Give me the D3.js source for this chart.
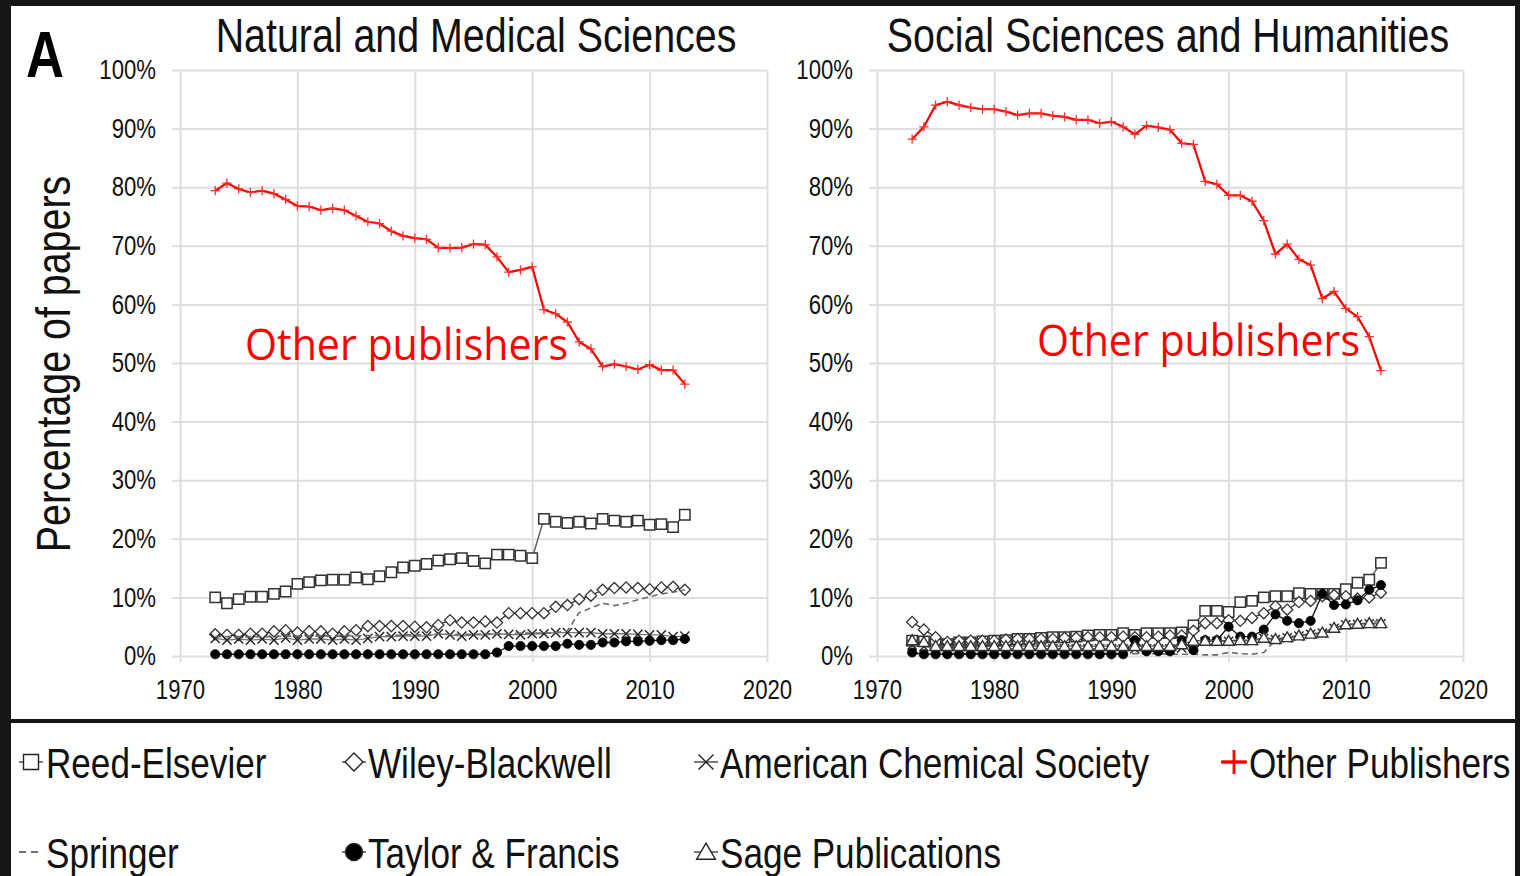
<!DOCTYPE html>
<html><head><meta charset="utf-8">
<script src="https://cdn.jsdelivr.net/npm/d3@7"></script>
<style>html,body{margin:0;padding:0;background:#151515;}svg{display:block;}</style>
</head><body>
<script>
// ---------------- DATA ----------------
const years = [1973,1974,1975,1976,1977,1978,1979,1980,1981,1982,1983,1984,1985,1986,1987,1988,1989,1990,1991,1992,1993,1994,1995,1996,1997,1998,1999,2000,2001,2002,2003,2004,2005,2006,2007,2008,2009,2010,2011,2012,2013];
const panelTitles = ["Natural and Medical Sciences", "Social Sciences and Humanities"];
const yTicks = [0,10,20,30,40,50,60,70,80,90,100];
const xTicks = [1970,1980,1990,2000,2010,2020];
const seriesNames = ["Reed-Elsevier","Wiley-Blackwell","American Chemical Society","Other Publishers","Springer","Taylor & Francis","Sage Publications"];

// Natural and Medical Sciences (% of papers)
const natReed    = [10.0,9.0,9.7,10.1,10.1,10.6,11.0,12.3,12.6,12.9,13.0,13.0,13.4,13.1,13.6,14.3,15.1,15.4,15.7,16.3,16.5,16.7,16.2,15.8,17.3,17.3,17.1,16.7,23.4,22.9,22.7,22.9,22.6,23.4,23.1,22.9,23.1,22.4,22.5,22.0,24.1];
const natWiley   = [3.7,3.6,3.6,3.8,3.8,4.2,4.4,4.0,4.2,4.2,3.8,4.2,4.4,5.1,5.1,5.1,5.1,5.0,4.9,5.3,6.1,5.7,5.7,5.9,5.7,7.3,7.3,7.3,7.3,8.4,8.7,9.7,10.3,11.3,11.6,11.7,11.6,11.4,11.7,11.8,11.3];
const natACS     = [3.0,2.7,2.9,2.7,2.9,2.7,3.1,2.7,2.9,2.9,2.7,2.9,2.7,3.0,3.3,3.3,3.4,3.4,3.4,3.8,3.6,3.4,3.6,3.6,3.8,3.7,3.6,3.8,3.8,4.0,4.0,4.0,4.0,3.8,3.8,3.8,3.7,3.6,3.6,3.3,3.4];
const natOther   = [79.4,80.7,79.7,79.1,79.4,78.9,77.9,76.8,76.7,76.1,76.4,76.1,75.1,74.1,73.8,72.5,71.7,71.3,71.1,69.7,69.6,69.7,70.3,70.2,68.1,65.5,65.9,66.4,59.1,58.4,57.0,53.6,52.4,49.4,49.8,49.4,48.9,49.7,48.8,48.8,46.4];
const natSpringer= [3.3,3.3,3.3,3.3,3.3,3.3,3.4,3.4,3.4,3.4,3.4,3.4,3.5,3.5,3.5,3.5,3.6,3.6,3.6,3.7,3.7,3.7,3.7,3.8,3.8,3.8,3.9,3.9,3.9,4.0,4.3,7.4,8.2,9.0,8.6,9.0,9.6,10.1,10.6,10.9,11.3];
const natTF      = [0.3,0.3,0.3,0.3,0.3,0.3,0.3,0.3,0.3,0.3,0.3,0.3,0.3,0.3,0.3,0.3,0.3,0.3,0.3,0.3,0.3,0.3,0.3,0.3,0.6,1.7,1.7,1.7,1.7,1.7,2.1,1.9,1.9,2.3,2.3,2.5,2.5,2.6,2.7,2.7,2.9];

// Social Sciences and Humanities (% of papers)
const socReed    = [2.6,2.5,2.0,2.0,2.3,2.3,2.5,2.6,2.7,2.9,2.9,3.1,3.2,3.2,3.3,3.5,3.6,3.6,3.9,3.6,3.9,3.9,3.9,4.0,5.2,7.7,7.7,7.5,9.2,9.4,10.0,10.2,10.2,10.7,10.6,10.6,10.6,11.4,12.5,13.0,15.9];
const socWiley   = [5.8,4.5,3.2,2.4,2.6,2.6,2.6,2.6,2.8,2.9,2.9,2.9,2.9,3.1,3.1,3.2,3.2,3.2,3.3,3.2,3.2,3.3,3.5,3.5,4.3,5.6,5.6,6.1,6.0,6.5,7.3,8.5,7.9,9.2,9.4,10.2,10.4,10.2,9.8,10.0,10.8];
const socACS     = [1.9,1.6,1.3,1.2,1.2,1.2,1.2,1.2,1.2,1.2,1.2,1.2,1.2,1.2,1.2,1.2,1.2,1.2,1.2,1.2,1.2,1.2,1.2,1.4,1.6,2.5,2.5,2.5,2.6,2.6,3.0,2.8,3.1,3.4,3.7,3.9,4.7,5.3,5.4,5.5,5.5];
const socOther   = [88.2,90.3,94.0,94.6,94.0,93.6,93.3,93.3,92.9,92.3,92.6,92.6,92.2,92.0,91.5,91.5,90.9,91.2,90.3,89.0,90.5,90.2,89.8,87.5,87.3,81.0,80.5,78.6,78.6,77.6,74.3,68.6,70.3,67.7,66.7,61.0,62.2,59.3,57.9,54.5,48.7];
const socSpringer= [0.4,0.4,0.4,0.4,0.4,0.4,0.4,0.4,0.4,0.4,0.4,0.4,0.4,0.4,0.4,0.4,0.4,0.4,0.4,0.4,0.4,0.4,0.3,0.3,0.3,0.2,0.2,0.6,0.4,0.3,0.6,2.7,2.9,3.2,3.5,3.8,4.4,4.8,5.2,5.5,6.3];
const socTF      = [0.6,0.3,0.3,0.3,0.3,0.3,0.3,0.3,0.3,0.3,0.3,0.3,0.3,0.3,0.3,0.3,0.3,0.3,0.3,2.7,0.8,0.8,0.8,2.7,1.0,2.7,2.7,5.0,3.3,3.3,4.5,7.1,6.0,5.6,6.0,10.6,8.7,8.8,9.5,11.3,12.1];
const socSage    = [2.7,2.4,1.7,1.7,1.7,1.7,1.7,1.7,1.7,1.7,1.7,1.7,1.7,1.7,1.7,1.7,1.7,1.7,1.7,1.7,1.7,1.7,1.7,2.0,2.6,2.6,2.6,2.6,2.7,2.7,3.1,2.9,3.2,3.5,3.8,4.0,4.8,5.4,5.5,5.6,5.6];

const annotation = "Other publishers";

// ---------------- DRAWING ----------------
const W = 1520, H = 876;
const svg = d3.select("body").append("svg").attr("width", W).attr("height", H);
svg.append("rect").attr("width", W).attr("height", H).attr("fill", "#151515");
svg.append("rect").attr("x", 11).attr("y", 6).attr("width", 1504).attr("height", 713).attr("fill", "#fff");
svg.append("rect").attr("x", 11).attr("y", 723).attr("width", 1504).attr("height", 153).attr("fill", "#fff");

const FONT = "'Liberation Sans', Arial, sans-serif";
const K = 0.82; // narrow font factor
function condense(sel, k) {
  sel.each(function () {
    const w = this.getComputedTextLength();
    this.setAttribute("textLength", w * k);
    this.setAttribute("lengthAdjust", "spacingAndGlyphs");
  });
}

// marker shapes
const mk = {
  square: s => `M${-s},${-s}h${2*s}v${2*s}h${-2*s}Z`,
  diamond: s => `M0,${-s}L${s},0L0,${s}L${-s},0Z`,
  times: s => `M${-s},${-s}L${s},${s}M${s},${-s}L${-s},${s}`,
  plus: s => `M${-s},0H${s}M0,${-s}V${s}`,
  triangle: s => `M0,${-s*1.05}L${s*1.1},${s*0.85}L${-s*1.1},${s*0.85}Z`,
  circle: s => `M${s},0A${s},${s} 0 1 1 ${-s},0A${s},${s} 0 1 1 ${s},0Z`
};

const styles = {
  "Reed-Elsevier":            {line:"#595959", lw:1.4, dash:null, marker:"square", ms:5.2, mfill:"#fff", mstroke:"#333", msw:1.5, lms:7.5},
  "Wiley-Blackwell":          {line:"#333", lw:1.3, dash:null, marker:"diamond", ms:5.6, mfill:"#fff", mstroke:"#333", msw:1.3, lms:9},
  "American Chemical Society":{line:"#777", lw:1.3, dash:null, marker:"times", ms:4.6, mfill:"none", mstroke:"#222", msw:1.4, lms:7.5},
  "Other Publishers":         {line:"#ff0000", lw:2.2, dash:null, marker:"plus", ms:4.6, mfill:"none", mstroke:"#ff3030", msw:1.3, lms:12},
  "Springer":                 {line:"#6a6a6a", lw:1.6, dash:"6,4", marker:null},
  "Taylor & Francis":         {line:"#111", lw:1.3, dash:null, marker:"circle", ms:4.6, mfill:"#000", mstroke:"#000", msw:0.8, lms:8.5},
  "Sage Publications":        {line:"#555", lw:1.3, dash:null, marker:"triangle", ms:5.2, mfill:"#fff", mstroke:"#333", msw:1.4, lms:8.5}
};

const y = d3.scaleLinear().domain([0, 100]).range([656, 70]);

const panels = [
  {title: panelTitles[0], x0: 180, x1: 767, titleX: 476, annX: 245, annY: 360,
   series: [["Reed-Elsevier", natReed], ["Wiley-Blackwell", natWiley], ["American Chemical Society", natACS],
            ["Other Publishers", natOther], ["Springer", natSpringer], ["Taylor & Francis", natTF]]},
  {title: panelTitles[1], x0: 877, x1: 1463, titleX: 1168, annX: 1037, annY: 356,
   series: [["Reed-Elsevier", socReed], ["Wiley-Blackwell", socWiley], ["American Chemical Society", socACS],
            ["Other Publishers", socOther], ["Springer", socSpringer], ["Taylor & Francis", socTF], ["Sage Publications", socSage]]}
];

panels.forEach(p => {
  const x = d3.scaleLinear().domain([1970, 2020]).range([p.x0, p.x1]);
  const pw = p.x1 - p.x0;

  // y axis + horizontal gridlines
  const gy = svg.append("g").attr("transform", `translate(${p.x0 - 8},0)`)
    .call(d3.axisLeft(y).tickValues(yTicks).tickFormat(d => d + "%").tickSize(-(pw + 8)).tickPadding(16));
  gy.select(".domain").remove();
  gy.selectAll("line").attr("stroke", "#dedede").attr("stroke-width", 2);
  gy.selectAll("text").attr("font-family", FONT).attr("font-size", 27).attr("fill", "#111");

  // x axis + vertical gridlines
  const gx = svg.append("g").attr("transform", `translate(0,662)`)
    .call(d3.axisBottom(x).tickValues(xTicks).tickFormat(d3.format("d")).tickSize(-(662 - 70)).tickPadding(18));
  gx.select(".domain").remove();
  gx.selectAll("line").attr("stroke", "#dedede").attr("stroke-width", 2);
  gx.selectAll("text").attr("font-family", FONT).attr("font-size", 27).attr("fill", "#111");

  condense(gy.selectAll("text"), K);
  condense(gx.selectAll("text"), K);

  // title
  const t = svg.append("text").attr("x", p.titleX).attr("y", 52).attr("text-anchor", "middle")
    .attr("font-family", FONT).attr("font-size", 48).attr("fill", "#111").text(p.title);
  condense(t, K);

  // series
  p.series.forEach(([name, vals]) => {
    const st = styles[name];
    const line = d3.line().x((d, i) => x(years[i])).y(d => y(d));
    svg.append("path").datum(vals).attr("d", line).attr("fill", "none")
      .attr("stroke", st.line).attr("stroke-width", st.lw).attr("stroke-dasharray", st.dash);
    if (st.marker) {
      svg.append("g").selectAll("path").data(vals).join("path")
        .attr("transform", (d, i) => `translate(${x(years[i])},${y(d)})`)
        .attr("d", mk[st.marker](st.ms))
        .attr("fill", st.mfill).attr("stroke", st.mstroke).attr("stroke-width", st.msw);
    }
  });

  // annotation
  svg.append("text").attr("x", p.annX).attr("y", p.annY).attr("font-family", "'Open Sans', 'Noto Sans', sans-serif")
    .attr("font-size", 43).attr("fill", "#ff0000").attr("textLength", 323).attr("lengthAdjust", "spacingAndGlyphs")
    .text(annotation);
});

// panel letter
const A = svg.append("text").attr("x", 26).attr("y", 77).attr("font-family", FONT).attr("font-weight", "bold")
  .attr("font-size", 64).attr("fill", "#000").text("A");
condense(A, K);

// y label
const yl = svg.append("text").attr("transform", "translate(70,364) rotate(-90)").attr("text-anchor", "middle")
  .attr("font-family", FONT).attr("font-size", 48).attr("fill", "#111").text("Percentage of papers");
condense(yl, K);

// legend
const legendPos = [
  {mx: 31, tx: 46, y: 762}, {mx: 354, tx: 368, y: 762}, {mx: 706, tx: 720, y: 762}, {mx: 1234, tx: 1249, y: 762},
  {mx: 31, tx: 46, y: 852}, {mx: 354, tx: 368, y: 852}, {mx: 706, tx: 720, y: 852}
];
seriesNames.forEach((name, i) => {
  const st = styles[name], lp = legendPos[i];
  const g = svg.append("g").attr("transform", `translate(${lp.mx},${lp.y})`);
  const other = name === "Other Publishers";
  g.append("line").attr("x1", other ? -13 : -12).attr("x2", other ? 13 : 12).attr("y1", 0).attr("y2", 0)
    .attr("stroke", other ? "#ff0000" : "#444").attr("stroke-width", other ? 2.8 : 1.4)
    .attr("stroke-dasharray", st.dash ? "7,5" : null);
  if (st.marker) {
    g.append("path").attr("d", mk[st.marker](st.lms)).attr("fill", st.mfill)
      .attr("stroke", other ? "#ff0000" : "#222").attr("stroke-width", other ? 2.8 : 1.4);
  }
  const t = svg.append("text").attr("x", lp.tx).attr("y", lp.y + 16).attr("font-family", FONT)
    .attr("font-size", 42.8).attr("fill", "#111").text(name);
  condense(t, K);
});
</script>
</body></html>
